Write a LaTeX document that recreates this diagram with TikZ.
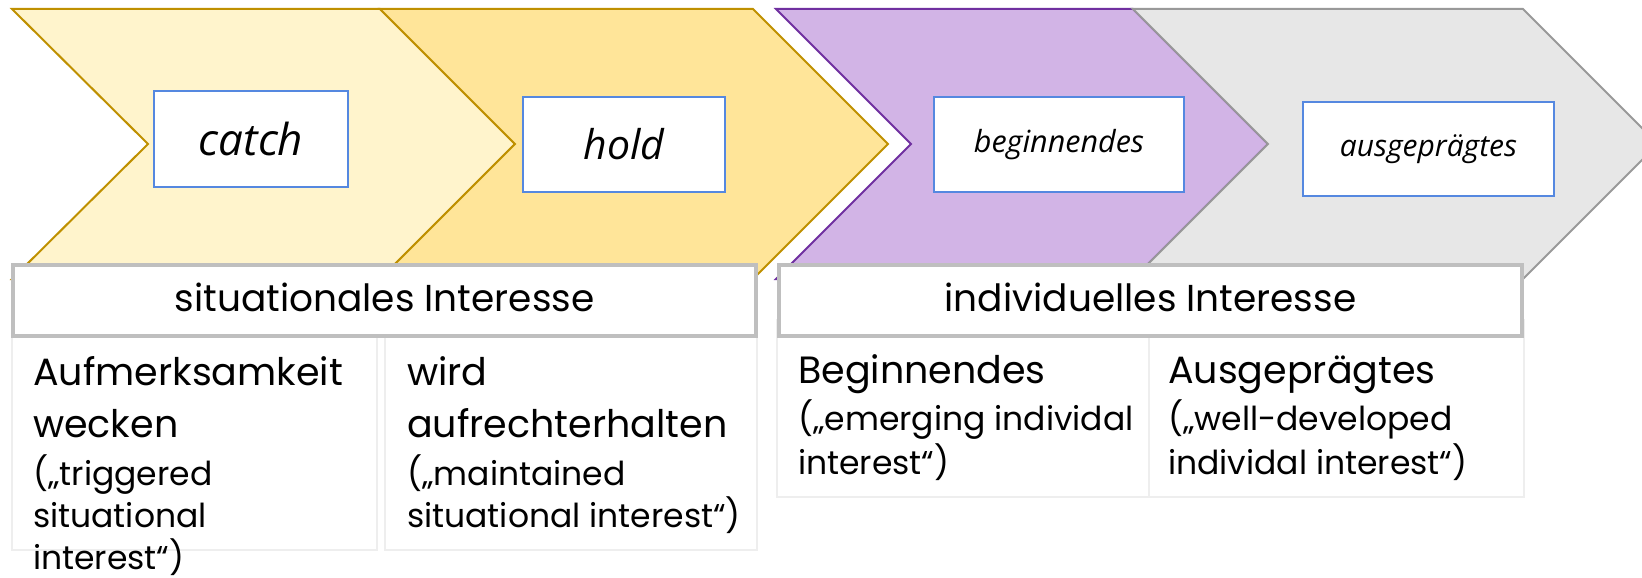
\documentclass[tikz,border=0pt]{standalone}
\usepackage{fontspec}
\setmainfont{Poppins}
\newfontfamily\handfont{Open Sans}
\begin{document}
\definecolor{yellowA}{HTML}{FFF4CC}
\definecolor{yellowB}{HTML}{FFE599}
\definecolor{goldline}{HTML}{BF9000}
\definecolor{lilac}{HTML}{D2B4E6}
\definecolor{purpleline}{HTML}{7030A0}
\definecolor{greyfill}{HTML}{E7E7E7}
\definecolor{greyline}{HTML}{999999}
\definecolor{boxblue}{HTML}{5588E0}
\definecolor{headline}{HTML}{BFBFBF}
\definecolor{cellline}{HTML}{EEEEEE}
\begin{tikzpicture}[x=1pt,y=-1pt,
  chev/.style={line width=2pt,line join=miter},
  stagebox/.style={draw=boxblue,line width=2pt,fill=white,inner sep=0pt},
  headbox/.style={draw=headline,line width=4pt,fill=white},
  cellbox/.style={draw=cellline,line width=1.5pt,fill=white},
  headtext/.style={font=\fontsize{37.5}{42}\selectfont,anchor=base,inner sep=0pt},
  bigline/.style={font=\fontsize{38}{44}\selectfont,anchor=base west,inner sep=0pt},
  smallline/.style={font=\fontsize{33}{38}\selectfont,anchor=base west,inner sep=0pt}]
\useasboundingbox (0,0) rectangle (1642,578);

% chevrons of the four stages
\draw[chev,draw=goldline,fill=yellowA]
  (12,9) -- (380,9) -- (515,144) -- (380,279) -- (12,279) -- (148,144) -- cycle;
\draw[chev,draw=goldline,fill=yellowB]
  (380,9) -- (753,9) -- (888,144) -- (753,279) -- (380,279) -- (515,144) -- cycle;
\draw[chev,draw=purpleline,fill=lilac]
  (776,9) -- (1133,9) -- (1268,144) -- (1133,279) -- (776,279) -- (911,144) -- cycle;
\draw[chev,draw=greyline,fill=greyfill]
  (1133,9) -- (1523,9) -- (1658,144) -- (1523,279) -- (1133,279) -- (1268,144) -- cycle;

% stage labels
\node[stagebox,minimum width=194pt,minimum height=96pt] (catch) at (251,139)
  {\fontsize{44}{48}\selectfont\handfont\itshape catch};
\node[stagebox,minimum width=202pt,minimum height=95pt] (hold) at (624,144.5)
  {\fontsize{41}{44}\selectfont\handfont\itshape hold};
\node[stagebox,minimum width=250pt,minimum height=95pt] (begin) at (1059,144.5)
  {\fontsize{30.5}{34}\selectfont\handfont\itshape beginnendes};
\node[stagebox,minimum width=251pt,minimum height=94pt] (ausg) at (1428.5,149)
  {\fontsize{30}{34}\selectfont\handfont\itshape ausgeprägtes};

% description cells
\draw[cellbox] (12,320) rectangle (377,550);
\draw[cellbox] (385,320) rectangle (757,550);
\draw[cellbox] (777,320) rectangle (1524,497);
\draw[cellline,line width=1.5pt] (1149,337) -- (1149,497);

% headers
\draw[headbox] (13,265) rectangle (756,336);
\draw[headbox] (779,265) rectangle (1522,336);
\node[headtext] (hsit) at (384.5,311) {situationales Interesse};
\node[headtext] (hind) at (1150.5,311) {individuelles Interesse};

% first column
\node[bigline] (a1) at (33,385) {Aufmerksamkeit};
\node[bigline] (a2) at (33,437) {wecken};
\node[smallline] (a3) at (33,485) {(„triggered};
\node[smallline] (a4) at (33,527) {situational};
\node[smallline] (a5) at (33,569) {interest“)};

% second column
\node[bigline] (b1) at (407,385) {wird};
\node[bigline] (b2) at (407,437) {aufrechterhalten};
\node[smallline] (b3) at (407,485) {(„maintained};
\node[smallline] (b4) at (407,527) {situational interest“)};

% third column
\node[bigline] (c1) at (798,383) {Beginnendes};
\node[smallline] (c2) at (798,430) {(„emerging individal};
\node[smallline] (c3) at (798,474) {interest“)};

% fourth column
\node[bigline] (d1) at (1168,383) {Ausgeprägtes};
\node[smallline] (d2) at (1168,430) {(„well-developed};
\node[smallline] (d3) at (1168,474) {individal interest“)};
\end{tikzpicture}
\end{document}
